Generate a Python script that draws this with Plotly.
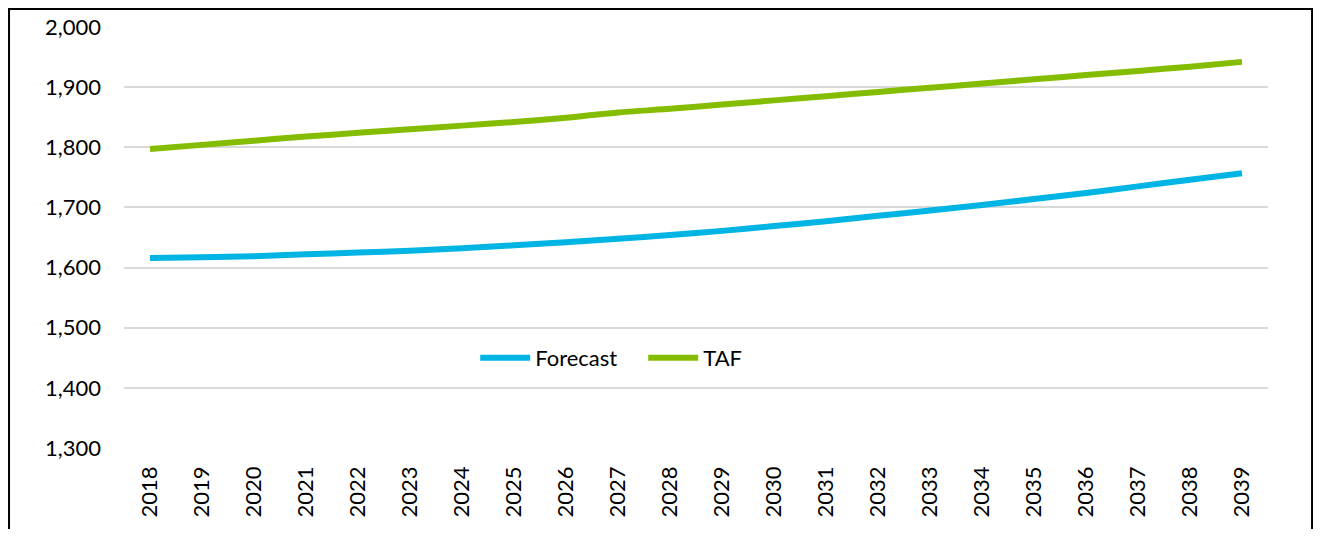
import plotly.graph_objects as go

years = [str(y) for y in range(2018, 2040)]
forecast = [1616, 1617, 1619, 1622, 1625, 1628, 1632, 1637, 1642, 1648, 1654,
            1661, 1669, 1677, 1686, 1695, 1704, 1714, 1724, 1735, 1746, 1757]
taf = [1797, 1804, 1811, 1818, 1824, 1830, 1836, 1842, 1849, 1858, 1864,
       1871, 1878, 1885, 1892, 1899, 1906, 1913, 1920, 1927, 1934, 1942]

FONT = "Lato"
fig = go.Figure()
fig.add_trace(go.Scatter(x=years, y=forecast, name="Forecast", mode="lines",
                         line=dict(color="#00B4E4", width=6, shape="spline", smoothing=0.6)))
fig.add_trace(go.Scatter(x=years, y=taf, name="TAF", mode="lines",
                         line=dict(color="#84BD00", width=6, shape="spline", smoothing=0.6)))

fig.update_layout(
    width=1305, height=521,
    margin=dict(l=116, r=45, t=19, b=81, autoexpand=False),
    paper_bgcolor="white", plot_bgcolor="white",
    font=dict(family=FONT, size=22, color="black"),
    showlegend=True,
    legend=dict(orientation="h", x=0.307, y=0.214, xanchor="left", yanchor="middle",
                font=dict(family=FONT, size=22, color="black"), bgcolor="rgba(0,0,0,0)",
                itemwidth=50, entrywidth=103),
    xaxis=dict(type="category", range=[-0.5, len(years) - 0.5], showgrid=False,
               showline=False, ticks="", tickangle=-90, ticklabelstandoff=13,
               zeroline=False, automargin=False),
    yaxis=dict(range=[1300, 2000], dtick=100, tickformat=",", showgrid=True,
               gridcolor="#D9D9D9", gridwidth=1.5, zeroline=False, showline=False,
               ticks="", ticklabelstandoff=22, automargin=False),
    shapes=[dict(type="rect", xref="paper", yref="paper",
                 x0=-0.1005, x1=1.0385, y0=-0.4, y1=1.0428,
                 line=dict(color="black", width=2), fillcolor="rgba(0,0,0,0)", layer="above")],
)
fig.write_html("out.html")
